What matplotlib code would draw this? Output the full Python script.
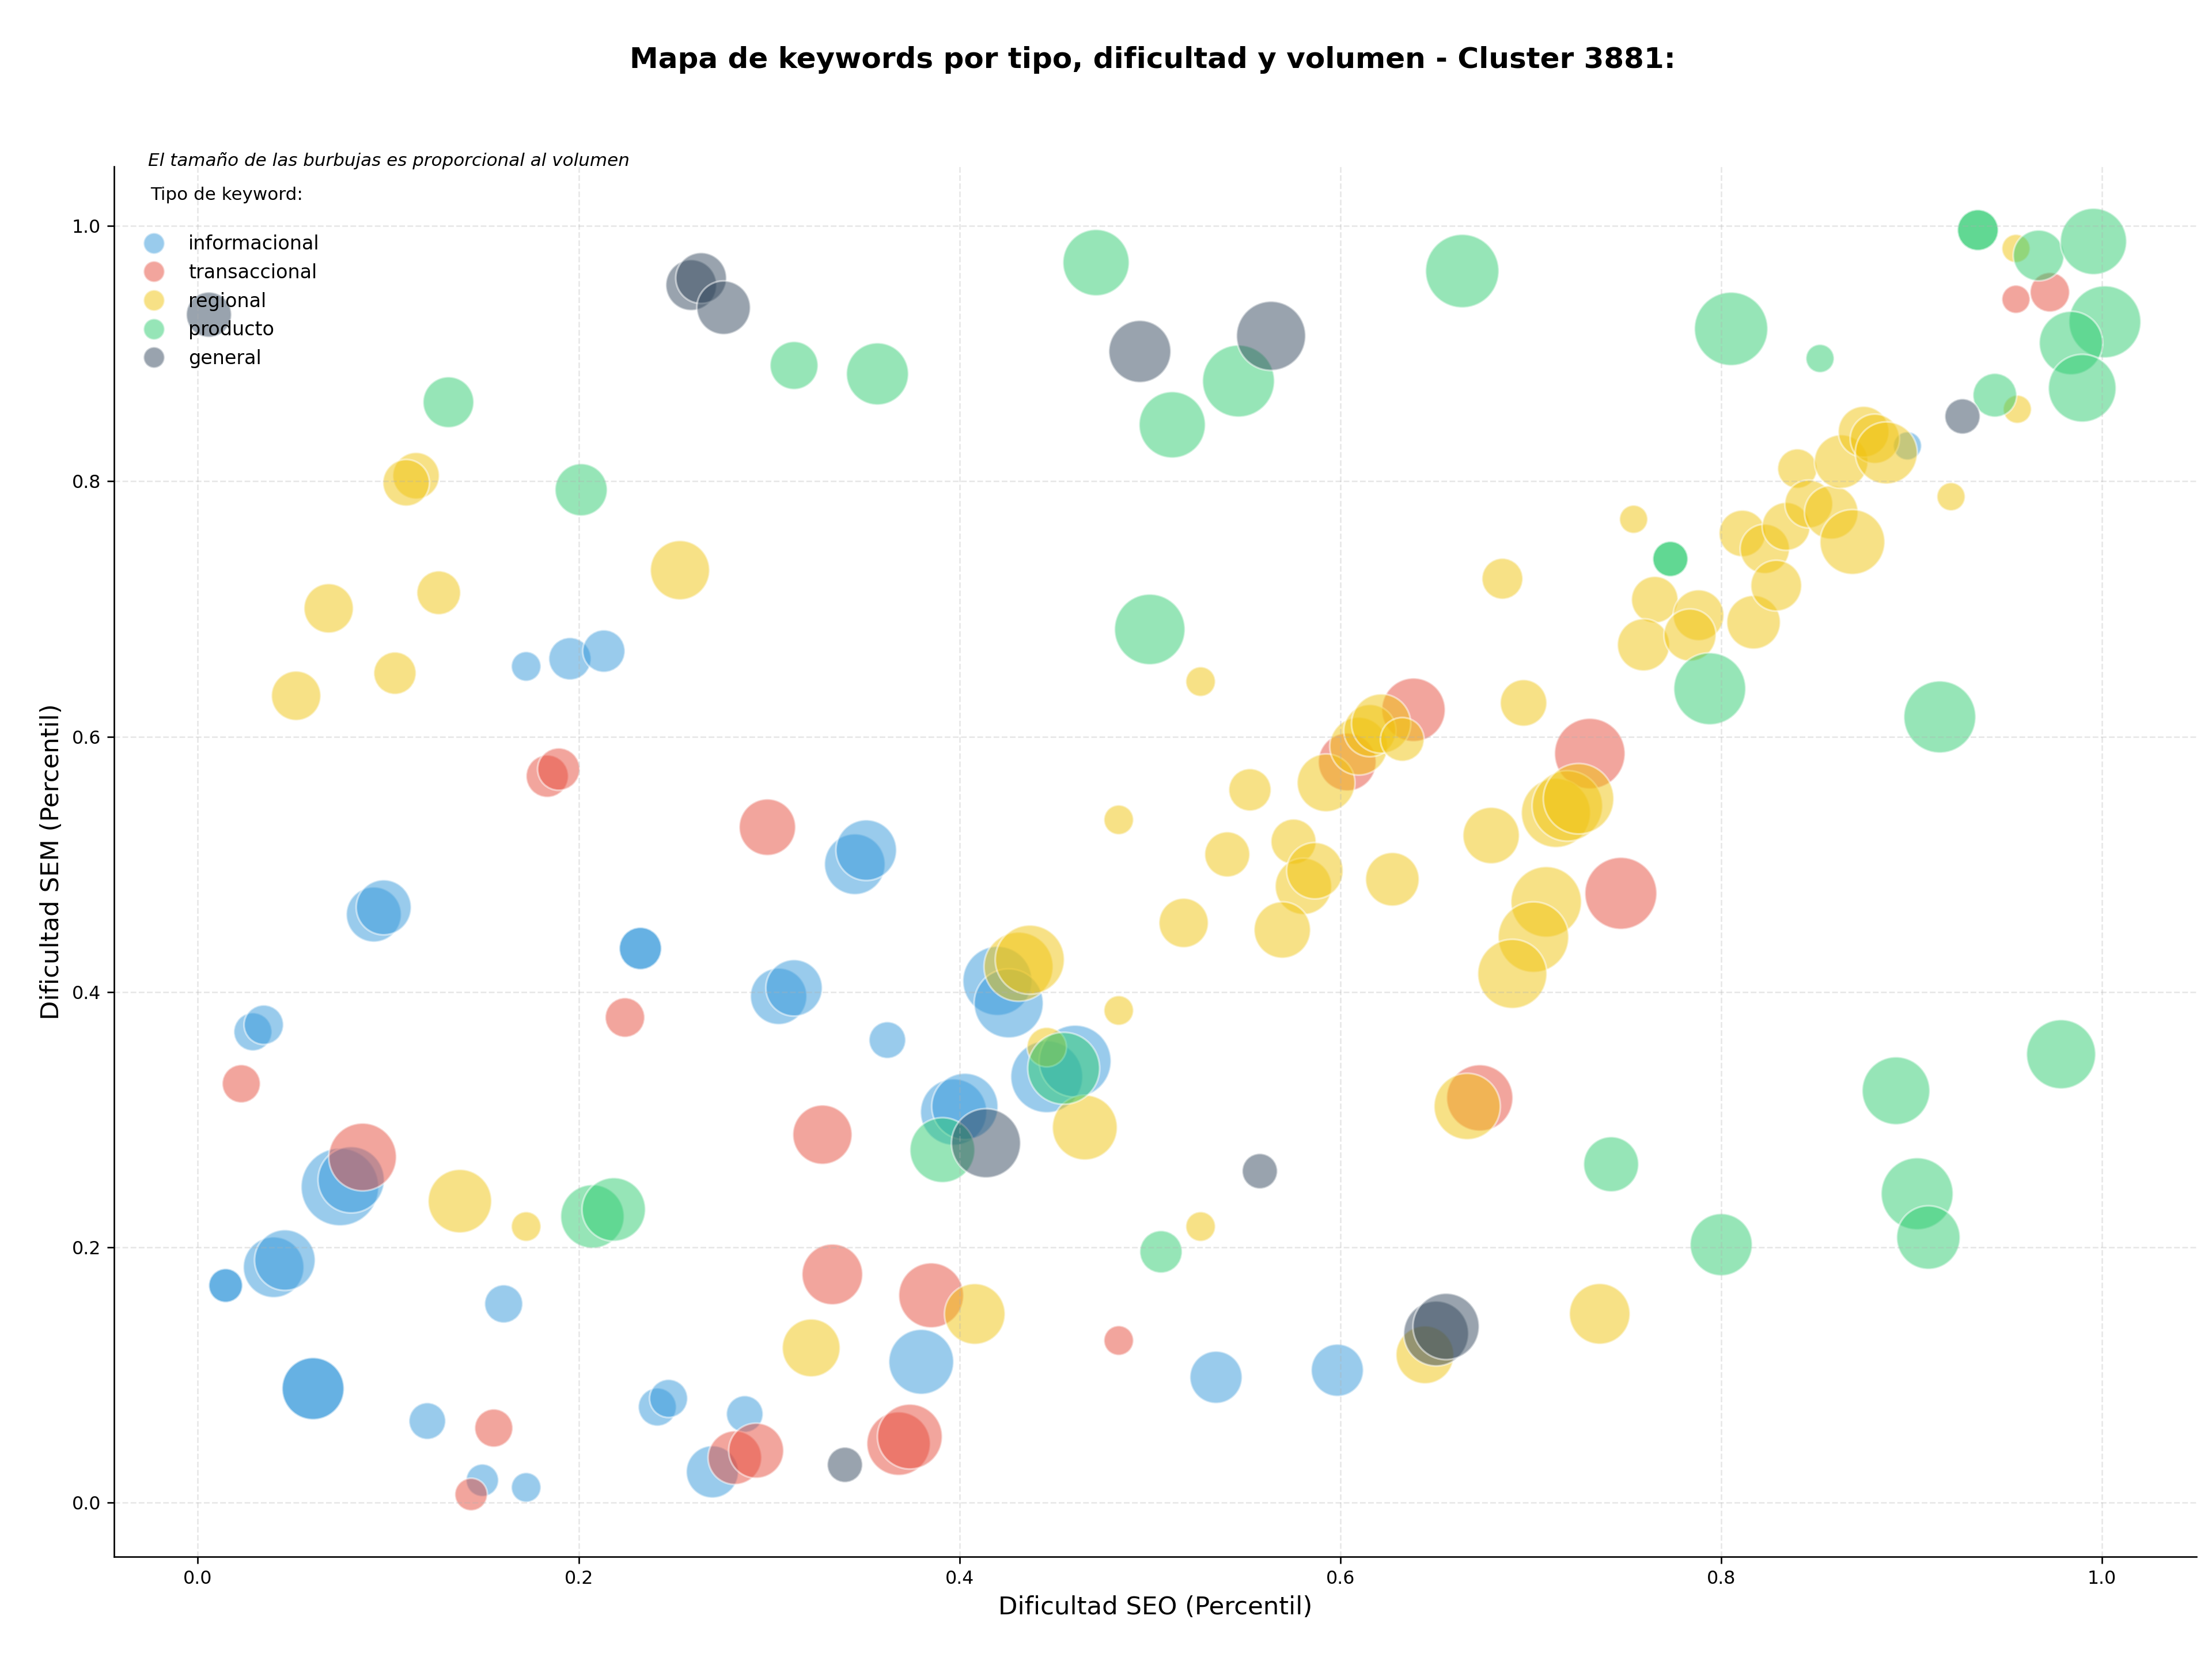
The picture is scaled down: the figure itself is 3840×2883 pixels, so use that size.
import matplotlib
matplotlib.use("Agg")
import matplotlib.pyplot as plt
from matplotlib.lines import Line2D
import numpy as np

# ---------------- DATA ----------------
tipos = ["informacional", "transaccional", "regional", "producto", "general"]
colores = {"informacional": "#3498db", "transaccional": "#e74c3c",
           "regional": "#f1c40f", "producto": "#2ecc71", "general": "#34495e"}

# informacional
info_seo = [0.1724, 0.1954, 0.2132, 0.3450, 0.3510, 0.0924, 0.0976, 0.2324, 0.2324,
            0.0289, 0.0346, 0.0746, 0.0805, 0.0398, 0.0457, 0.0146, 0.0146, 0.1606,
            0.0605, 0.0605, 0.1205, 0.1494, 0.1724, 0.3050, 0.3131, 0.3621, 0.4199,
            0.4258, 0.4458, 0.4607, 0.3969, 0.4028, 0.3799, 0.2413, 0.2472, 0.2872,
            0.2702, 0.5347, 0.5984, 0.8978]
info_sem = [0.655, 0.661, 0.667, 0.500, 0.511, 0.4606, 0.4662, 0.434, 0.434,
            0.3687, 0.3742, 0.2471, 0.2527, 0.1842, 0.1898, 0.1699, 0.1699, 0.1555,
            0.0891, 0.0891, 0.0637, 0.0173, 0.0117, 0.3965, 0.4031, 0.3622, 0.4086,
            0.3910, 0.3335, 0.3457, 0.3058, 0.3102, 0.1101, 0.0747, 0.0814, 0.0692,
            0.0239, 0.0980, 0.1035, 0.8278]
info_vol = [238, 486, 486, 998, 998, 821, 821, 486, 486,
            394, 423, 1633, 1192, 998, 998, 311, 311, 394,
            1045, 1045, 365, 286, 238, 864, 864, 365, 1296,
            1296, 1404, 1404, 1192, 1192, 1142, 394, 394, 365,
            739, 739, 739, 216]

# transaccional
trans_seo = [0.1835, 0.1895, 0.2991, 0.2243, 0.0228, 0.0865, 0.1554, 0.1435, 0.3280,
             0.3332, 0.3851, 0.4836, 0.2820, 0.2932, 0.3680, 0.3739, 0.6732, 0.7473,
             0.7310, 0.6384, 0.6036, 0.9548, 0.9726]
trans_sem = [0.5690, 0.5745, 0.5290, 0.3799, 0.3280, 0.2706, 0.0582, 0.0062, 0.2881,
             0.1786, 0.1622, 0.1268, 0.0350, 0.0405, 0.0460, 0.0515, 0.3169, 0.4772,
             0.5867, 0.6210, 0.5801, 0.9427, 0.9482]
trans_vol = [486, 486, 864, 423, 394, 1244, 394, 286, 952,
             998, 1142, 238, 779, 821, 1093, 1142, 1192, 1404,
             1349, 1093, 907, 216, 423]

# regional
reg_seo = [0.1146, 0.1094, 0.0687, 0.1265, 0.1035, 0.0516, 0.2532, 0.1376, 0.1724,
           0.3221, 0.4080, 0.4310, 0.4369, 0.4836, 0.4458, 0.4658, 0.4836, 0.5266,
           0.5266, 0.5525, 0.5925, 0.6096, 0.6155, 0.6214, 0.6325, 0.5406, 0.5754,
           0.5177, 0.5806, 0.5866, 0.5695, 0.6273, 0.6851, 0.6962, 0.6792, 0.7132,
           0.7192, 0.7251, 0.7081, 0.7014, 0.6903, 0.6666, 0.6444, 0.7362, 0.7540,
           0.7651, 0.7592, 0.7881, 0.7836, 0.8170, 0.8111, 0.8229, 0.8289, 0.8341,
           0.8400, 0.8460, 0.8578, 0.8630, 0.8689, 0.8748, 0.8807, 0.8867, 0.9207,
           0.9548, 0.9555]
reg_sem = [0.8044, 0.7989, 0.7005, 0.7127, 0.6497, 0.6320, 0.7304, 0.2360, 0.2161,
           0.1210, 0.1476, 0.4197, 0.4252, 0.3854, 0.3567, 0.2937, 0.5348, 0.6431,
           0.2161, 0.5583, 0.5638, 0.5925, 0.6047, 0.6102, 0.5978, 0.5077, 0.5177,
           0.4540, 0.4827, 0.4949, 0.4485, 0.4882, 0.7237, 0.6264, 0.5225, 0.5402,
           0.5457, 0.5513, 0.4705, 0.4429, 0.4141, 0.3102, 0.1156, 0.1477, 0.7703,
           0.7073, 0.6719, 0.6951, 0.6796, 0.6896, 0.7592, 0.7471, 0.7183, 0.7647,
           0.8100, 0.7823, 0.7757, 0.8155, 0.7525, 0.8389, 0.8334, 0.8223, 0.7880,
           0.9825, 0.8565]
reg_vol = [588, 588, 661, 519, 486, 661, 952, 1093, 238,
           907, 998, 1296, 1296, 238, 423, 1142, 238, 238,
           238, 486, 907, 907, 739, 952, 519, 553, 553,
           661, 864, 864, 864, 779, 454, 588, 864, 1296,
           1349, 1349, 1349, 1349, 1296, 1192, 907, 998, 216,
           588, 739, 700, 739, 779, 588, 661, 700, 624,
           423, 624, 779, 779, 1142, 700, 661, 1045, 216,
           216, 216]

# producto
prod_seo = [0.1316, 0.2013, 0.3131, 0.3569, 0.4717, 0.5117, 0.5465, 0.4999, 0.6640,
            0.8052, 0.8519, 0.9348, 0.9348, 0.9667, 0.9955, 1.0015, 0.9837, 0.9896,
            0.9437, 0.7733, 0.7733, 0.7940, 0.9148, 0.2072, 0.2184, 0.3910, 0.4547,
            0.5058, 0.7422, 0.8000, 0.8918, 0.9029, 0.9088, 0.9785]
prod_sem = [0.8620, 0.7934, 0.8908, 0.8842, 0.9714, 0.8443, 0.8786, 0.6840, 0.9648,
            0.9195, 0.8963, 0.9969, 0.9969, 0.9770, 0.9880, 0.9250, 0.9084, 0.8730,
            0.8675, 0.7392, 0.7392, 0.6375, 0.6154, 0.2240, 0.2295, 0.2760, 0.3401,
            0.1963, 0.2649, 0.2019, 0.3225, 0.2418, 0.2075, 0.3511]
prod_vol = [700, 739, 624, 1045, 1192, 1192, 1404, 1349, 1460,
            1460, 216, 454, 454, 700, 1192, 1404, 1093, 1244,
            519, 337, 337, 1404, 1404, 1093, 1093, 1142, 1404,
            486, 821, 1045, 1244, 1404, 1093, 1296]

# general
gen_seo = [0.0058, 0.2591, 0.2643, 0.2761, 0.4947, 0.5636, 0.4139, 0.3398, 0.5577,
           0.6503, 0.6555, 0.9267]
gen_sem = [0.9306, 0.9538, 0.9593, 0.9361, 0.9018, 0.9140, 0.2814, 0.0294, 0.2595,
           0.1323, 0.1378, 0.8509]
gen_vol = [553, 700, 700, 779, 1045, 1296, 1296, 337, 337,
           1142, 1192, 337]

series = {
    "informacional": (info_seo, info_sem, info_vol),
    "transaccional": (trans_seo, trans_sem, trans_vol),
    "regional": (reg_seo, reg_sem, reg_vol),
    "producto": (prod_seo, prod_sem, prod_vol),
    "general": (gen_seo, gen_sem, gen_vol),
}

titulo = "Mapa de keywords por tipo, dificultad y volumen - Cluster 3881:"
subtitulo = "El tamaño de las burbujas es proporcional al volumen"

# ---------------- PLOT ----------------
fig = plt.figure(figsize=(16, 2883 / 240), dpi=240)
ax = fig.add_axes([0.05166, 0.06287, 0.94133, 0.83688])

ESCALA = 1.0
for t in tipos:
    x, y, v = series[t]
    ax.scatter(x, y, s=np.array(v) * ESCALA, c=colores[t], alpha=0.5,
               edgecolors="white", linewidths=1)

ax.set_xlim(-0.0439, 1.0496)
ax.set_ylim(-0.0425, 1.0467)
ax.set_xticks([0.0, 0.2, 0.4, 0.6, 0.8, 1.0])
ax.set_yticks([0.0, 0.2, 0.4, 0.6, 0.8, 1.0])
ax.tick_params(labelsize=9.5)
ax.grid(True, linestyle="--", alpha=0.3)
ax.spines["top"].set_visible(False)
ax.spines["right"].set_visible(False)

ax.set_xlabel("Dificultad SEO (Percentil)", fontsize=13)
ax.set_ylabel("Dificultad SEM (Percentil)", fontsize=13)

fig.text(0.521, 0.964, titulo, fontsize=15, fontweight="bold",
         ha="center", va="center")

ax.text(0.0163, 1.004, subtitulo, transform=ax.transAxes, fontsize=9.3,
        style="italic", ha="left", va="center")

handles = [Line2D([0], [0], marker="o", linestyle="", markersize=11,
                  markerfacecolor=colores[t], markeredgecolor="white",
                  alpha=0.5, label=t) for t in tipos]
leg = ax.legend(handles=handles, loc="upper left", title="Tipo de keyword:\n",
                fontsize=10, title_fontsize=9.3, frameon=False,
                borderaxespad=0.65)
leg.get_title().set_linespacing(1.38)

fig.savefig("out.png", dpi=240)
